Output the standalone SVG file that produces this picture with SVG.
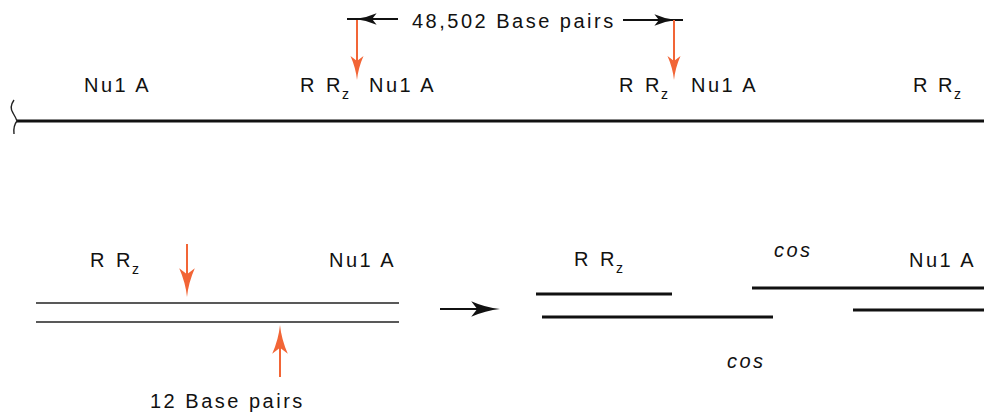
<svg xmlns="http://www.w3.org/2000/svg" xmlns:xlink="http://www.w3.org/1999/xlink" width="984" height="413" viewBox="0 0 984 413">
<style>
text{font-family:"Liberation Sans",Arial,sans-serif;font-size:20px;letter-spacing:2.5px;fill:#111}
.r{letter-spacing:0}
.sub{font-size:14px;letter-spacing:0}
.it{font-style:italic}
.dna{stroke:#111;stroke-width:3;fill:none}
.thin{stroke:#222;stroke-width:1.6;fill:none}
.red{stroke:#F26536;stroke-width:2;fill:none}
.blk{stroke:#111;stroke-width:1.8;fill:none}
.rh{fill:#F26536}
.bh{fill:#111}
</style>
<defs>
<path id="ah" d="M0,0 Q-12,-1.2 -24,-6.5 L-19,0 L-24,6.5 Q-12,1.2 0,0Z"/>
</defs>
<rect width="984" height="413" fill="#fff"/>

<g id="top-dna">
<path class="dna" d="M17,121 H984"/>
<path d="M14,100 Q9,107 13,113 Q16,118 17,121 Q13,126 14,134" fill="none" stroke="#222" stroke-width="1.4"/>
</g>

<g id="top-labels">
<text x="84" y="92">Nu1 A</text>
<text class="r" x="300" y="92">R</text><text class="r" x="326" y="92">R</text><text class="sub" x="342" y="99">z</text>
<text x="369" y="92">Nu1 A</text>
<text class="r" x="619" y="92">R</text><text class="r" x="645" y="92">R</text><text class="sub" x="661" y="99">z</text>
<text x="691" y="92">Nu1 A</text>
<text class="r" x="913" y="92">R</text><text class="r" x="938" y="92">R</text><text class="sub" x="954" y="99">z</text>
<text x="412" y="28">48,502 Base pairs</text>
</g>

<g id="connectors">
<path class="blk" d="M398,19 H347"/>
<use xlink:href="#ah" class="bh" transform="translate(355,19) rotate(180) scale(0.9)"/>
<path class="blk" d="M623,20 H683"/>
<use xlink:href="#ah" class="bh" transform="translate(676,20) scale(0.9)"/>
<path class="red" d="M357,20 V70"/>
<use xlink:href="#ah" class="rh" transform="translate(357,80) rotate(90)"/>
<path class="red" d="M674,20 V70"/>
<use xlink:href="#ah" class="rh" transform="translate(674,80) rotate(90)"/>

<path class="red" d="M187,244 V285"/>
<use xlink:href="#ah" class="rh" transform="translate(187,297) rotate(90) scale(1.2)"/>
<path class="red" d="M280,377 V337"/>
<use xlink:href="#ah" class="rh" transform="translate(280,325) rotate(-90) scale(1.2)"/>

<path class="blk" d="M440,309 H490"/>
<use xlink:href="#ah" class="bh" transform="translate(500,309) scale(1.2)"/>
</g>

<g id="left-duplex">
<path class="thin" d="M36,303 H399"/>
<path class="thin" d="M36,322 H399"/>
<text class="r" x="90" y="267">R</text><text class="r" x="116" y="267">R</text><text class="sub" x="132" y="274">z</text>
<text x="329" y="267">Nu1 A</text>
<text x="150" y="408">12 Base pairs</text>
</g>

<g id="right-fragments">
<path class="dna" d="M536,294 H672"/>
<path class="dna" d="M542,317 H773"/>
<path class="dna" d="M752,288 H984"/>
<path class="dna" d="M853,310 H984"/>
<text class="r" x="574" y="266">R</text><text class="r" x="600" y="266">R</text><text class="sub" x="616" y="273">z</text>
<text class="it" x="774" y="257">cos</text>
<text x="909" y="267">Nu1 A</text>
<text class="it" x="727" y="368">cos</text>
</g>
</svg>
